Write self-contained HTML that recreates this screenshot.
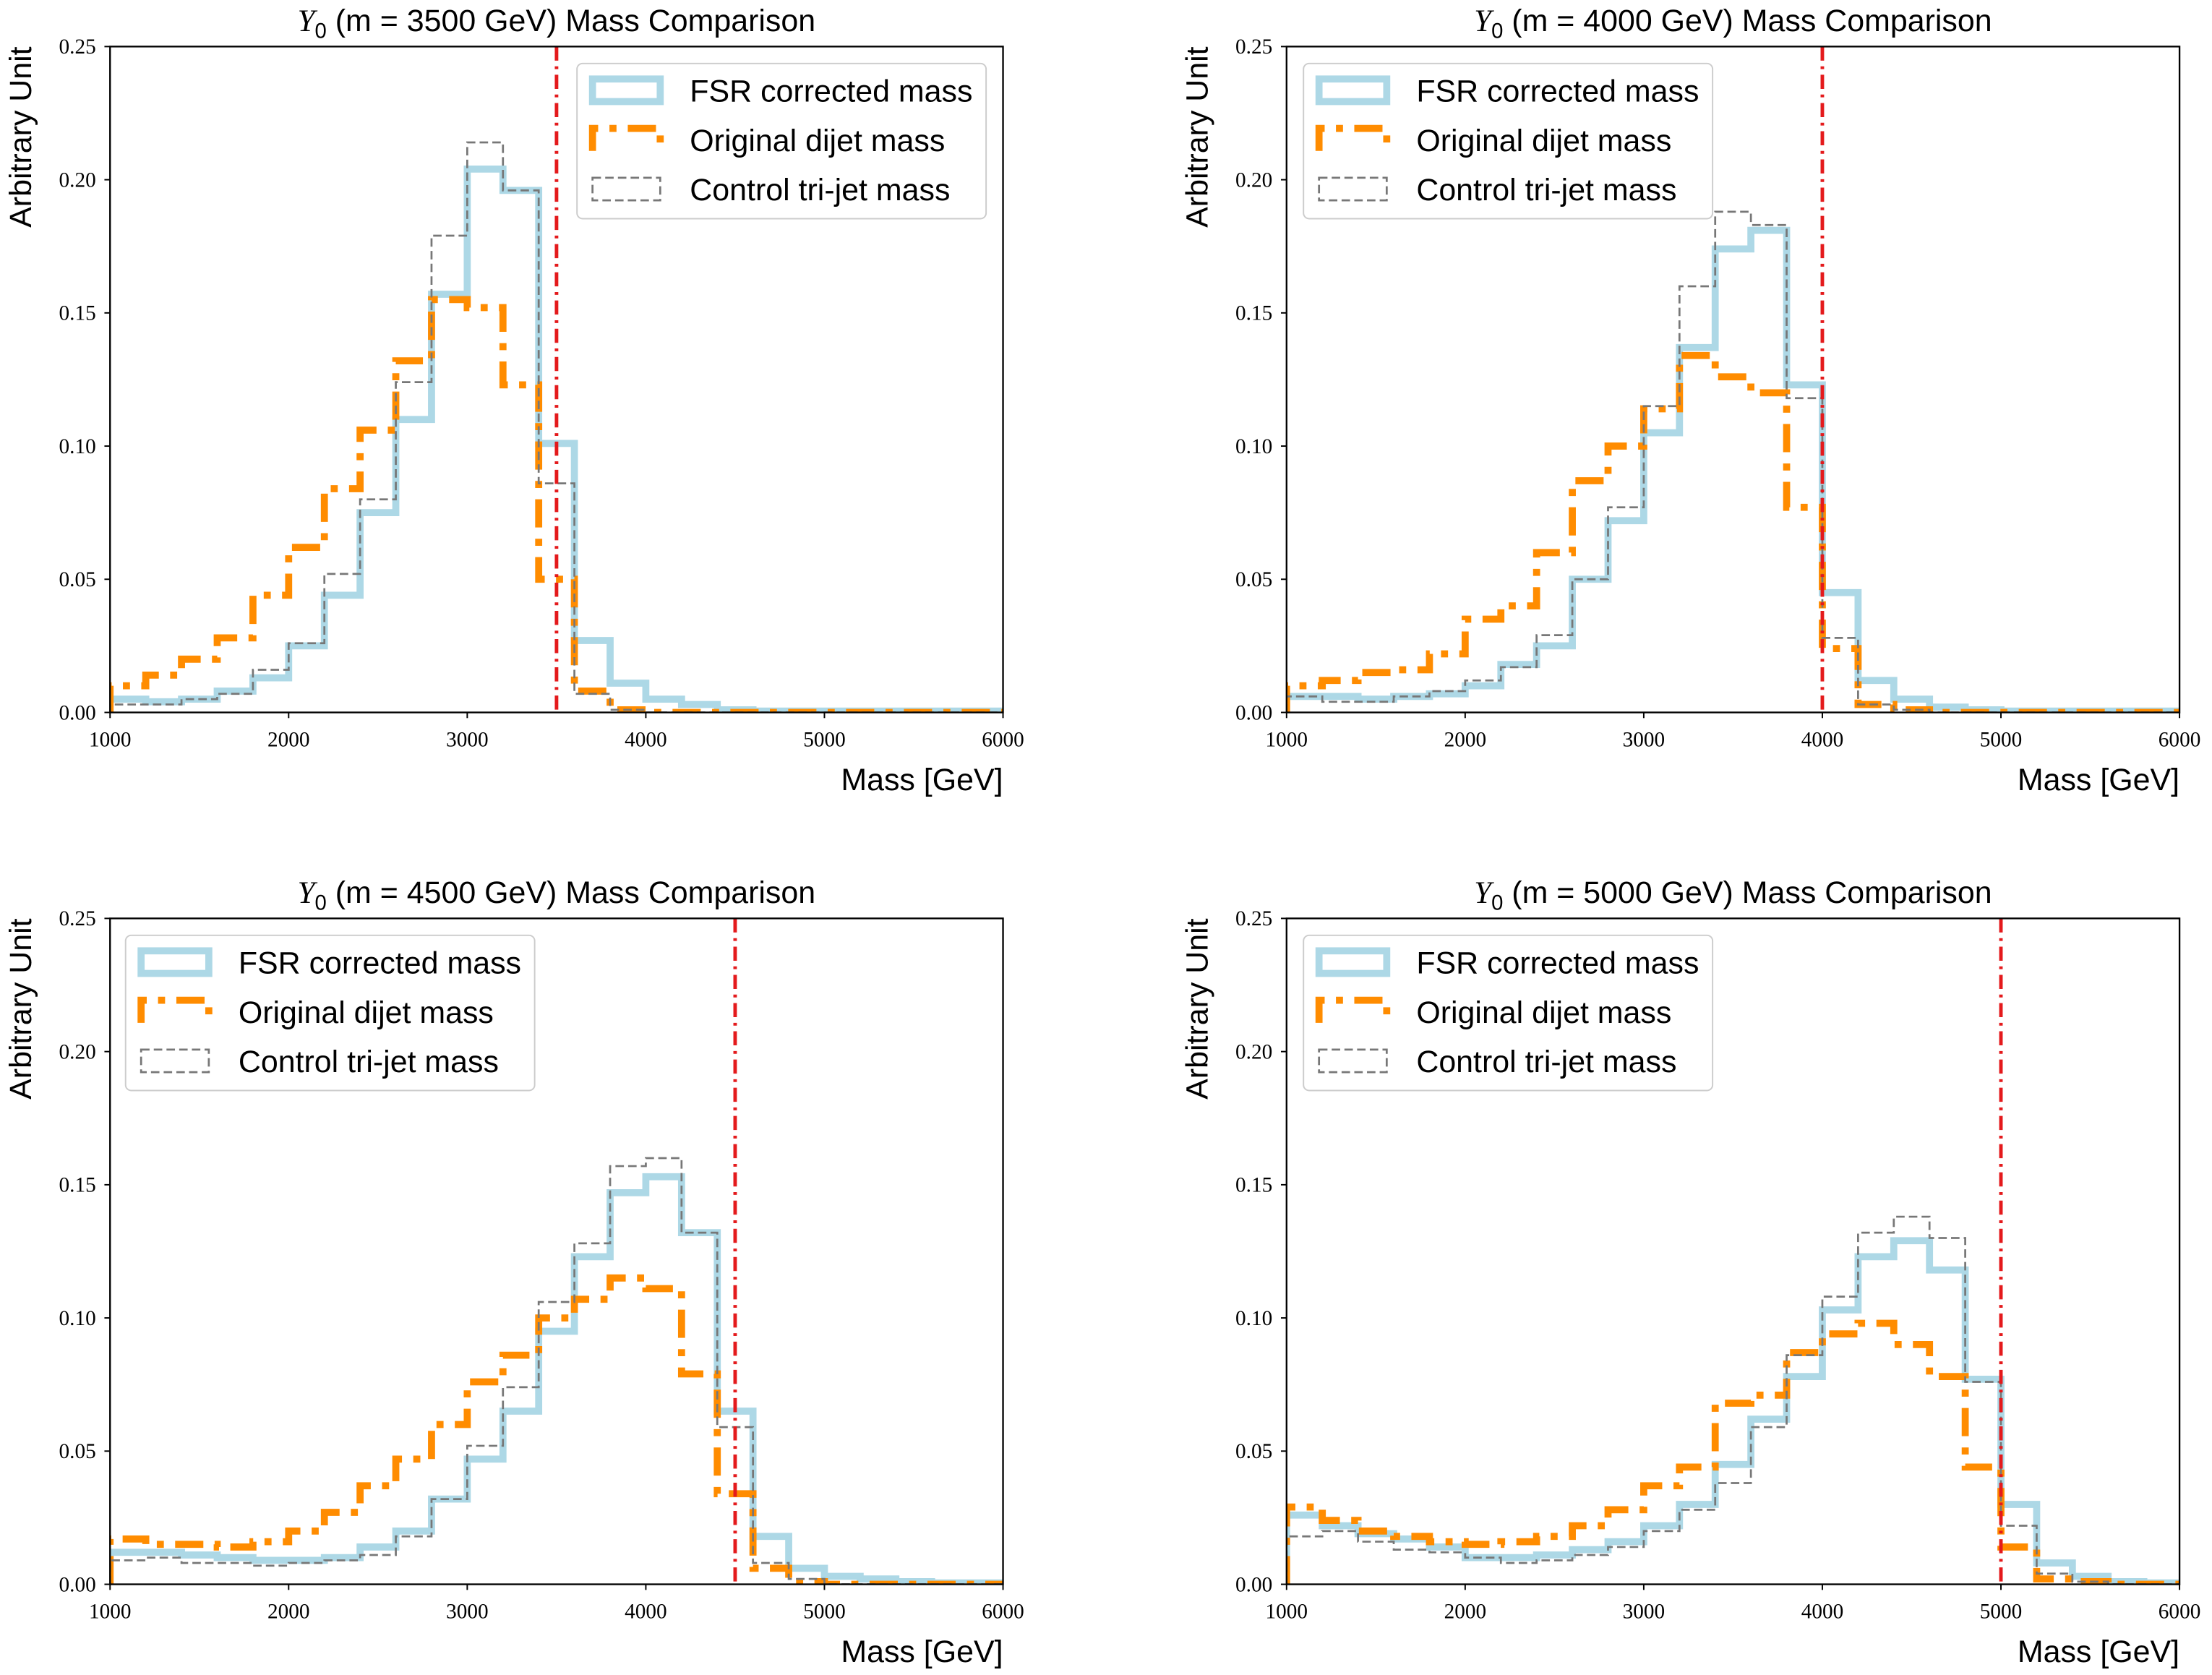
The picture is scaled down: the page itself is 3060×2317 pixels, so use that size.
<!DOCTYPE html>
<html><head><meta charset="utf-8"><style>html,body{margin:0;padding:0;background:#fff}svg{display:block}</style></head>
<body>
<svg id="s" xmlns="http://www.w3.org/2000/svg" width="3060" height="2317" viewBox="0 0 1568 1187.3"></svg>
<script>
const S=document.getElementById('s');
let h='<rect width="1568" height="1188" fill="#fff"/>';
const panels=[
{ox:78,oy:33,m:3500,leg:409,
b:[.005,.004,.005,.008,.013,.025,.044,.075,.11,.157,.204,.196,.101,.027,.011,.005,.003,.001,.0005,.0005,.0005,.0005,.0005,.0005,.0005],
o:[.01,.014,.02,.028,.044,.062,.084,.106,.132,.155,.152,.123,.05,.008,.001,0,0,0,0,0,0,0,0,0,0],
g:[.003,.003,.005,.007,.016,.026,.052,.08,.124,.179,.214,.196,.086,.007,.001,0,0,0,0,0,0,0,0,0,0]},
{ox:912,oy:33,m:4000,leg:924,
b:[.006,.006,.005,.006,.007,.01,.018,.025,.05,.072,.105,.137,.174,.181,.123,.045,.012,.005,.002,.001,.0005,.0005,.0005,.0005,.0005],
o:[.01,.012,.015,.016,.022,.035,.04,.06,.087,.1,.114,.134,.126,.12,.077,.024,.003,.001,0,0,0,0,0,0,0],
g:[.006,.004,.004,.006,.008,.012,.017,.029,.05,.077,.115,.16,.188,.183,.118,.028,.003,.001,0,0,0,0,0,0,0]},
{ox:78,oy:651,m:4500,leg:89,
b:[.012,.012,.011,.01,.009,.009,.01,.014,.02,.032,.047,.065,.095,.123,.147,.153,.132,.065,.018,.006,.003,.002,.001,.0005,.0005],
o:[.017,.015,.015,.014,.016,.02,.027,.037,.047,.06,.076,.086,.1,.107,.115,.111,.079,.034,.006,.001,0,0,0,0,0],
g:[.009,.01,.008,.008,.007,.008,.009,.011,.018,.032,.052,.074,.106,.128,.157,.16,.132,.059,.008,.002,0,0,0,0,0]},
{ox:912,oy:651,m:5000,leg:924,
b:[.026,.022,.019,.017,.014,.01,.01,.011,.013,.016,.022,.03,.045,.062,.078,.103,.123,.129,.118,.077,.03,.008,.003,.001,.0005],
o:[.029,.024,.02,.018,.016,.015,.016,.018,.022,.028,.037,.044,.068,.071,.087,.094,.098,.09,.078,.044,.014,.002,.001,0,0],
g:[.018,.02,.016,.013,.012,.01,.008,.009,.011,.014,.02,.028,.038,.059,.086,.108,.132,.138,.13,.076,.022,.004,.001,0,0]}];
const W=633,H=472;
function path(p,d){const X=v=>p.ox+(v-1000)/5000*W,Y=v=>p.oy+H-v/0.25*H;
 let s='M'+X(1000)+','+Y(0);for(let i=0;i<d.length;i++){s+=' L'+X(1000+200*i)+','+Y(d[i])+' L'+X(1200+200*i)+','+Y(d[i]);}return s;}
panels.forEach(p=>{
 const X=v=>p.ox+(v-1000)/5000*W,Y=v=>p.oy+H-v/0.25*H;
 h+=`<defs><clipPath id="c${p.m}"><rect x="${p.ox}" y="${p.oy}" width="${W}" height="${H}"/></clipPath></defs><g clip-path="url(#c${p.m})">`;
 h+=`<path d="${path(p,p.b)}" fill="none" stroke="#add8e6" stroke-width="5"/>`;
 h+=`<path d="${path(p,p.o)}" fill="none" stroke="#ff8c00" stroke-width="5" stroke-dasharray="20,8,5,8"/>`;
 h+=`<path d="${path(p,p.g)}" fill="none" stroke="#777" stroke-width="1.4" stroke-dasharray="6,3"/>`;
 h+=`<line x1="${X(p.m)}" x2="${X(p.m)}" y1="${p.oy}" y2="${p.oy+H}" stroke="#e41a1c" stroke-width="2.5" stroke-dasharray="10,4,2,4"/></g>`;
 h+=`<rect x="${p.ox}" y="${p.oy}" width="${W}" height="${H}" fill="none" stroke="#000" stroke-width="1.2"/>`;
 for(let v=1000;v<=6000;v+=1000){h+=`<line x1="${X(v)}" x2="${X(v)}" y1="${p.oy+H}" y2="${p.oy+H+4}" stroke="#000"/><text x="${X(v)}" y="${p.oy+H+24}" font-family="Liberation Serif,serif" font-size="15" text-anchor="middle">${v}</text>`;}
 for(let i=0;i<=5;i++){const v=i*0.05;h+=`<line x1="${p.ox-4}" x2="${p.ox}" y1="${Y(v)}" y2="${Y(v)}" stroke="#000"/><text x="${p.ox-10}" y="${Y(v)+5}" font-family="Liberation Serif,serif" font-size="15" text-anchor="end">${v.toFixed(2)}</text>`;}
 h+=`<text x="${p.ox+W}" y="${p.oy+H+55}" font-family="Liberation Sans,sans-serif" font-size="22" text-anchor="end">Mass [GeV]</text>`;
 h+=`<text transform="translate(${p.ox-56},${p.oy}) rotate(-90)" font-family="Liberation Sans,sans-serif" font-size="22" text-anchor="end">Arbitrary Unit</text>`;
 h+=`<text x="${p.ox+W/2}" y="${p.oy-11}" font-family="Liberation Sans,sans-serif" font-size="22" text-anchor="middle"><tspan font-family="Liberation Serif,serif" font-style="italic">Y</tspan><tspan font-size="15" dy="5">0</tspan><tspan dy="-5"> (m = ${p.m} GeV) Mass Comparison</tspan></text>`;
 const lx=p.leg,ly=p.oy+12;
 h+=`<rect x="${lx}" y="${ly}" width="290" height="110" rx="4" fill="#fff" fill-opacity="0.8" stroke="#ccc"/>`;
 h+=`<rect x="${lx+11}" y="${ly+11}" width="48" height="16" fill="none" stroke="#add8e6" stroke-width="5"/>`;
 h+=`<path d="M${lx+11},${ly+62} V${ly+46} H${lx+59} V${ly+62}" fill="none" stroke="#ff8c00" stroke-width="5" stroke-dasharray="20,8,5,8"/>`;
 h+=`<rect x="${lx+11}" y="${ly+81}" width="48" height="16" fill="none" stroke="#777" stroke-width="1.4" stroke-dasharray="6,3"/>`;
 ['FSR corrected mass','Original dijet mass','Control tri-jet mass'].forEach((t,i)=>{h+=`<text x="${lx+80}" y="${ly+27+35*i}" font-family="Liberation Sans,sans-serif" font-size="22">${t}</text>`;});
});
S.innerHTML=h;
</script>
</body></html>
